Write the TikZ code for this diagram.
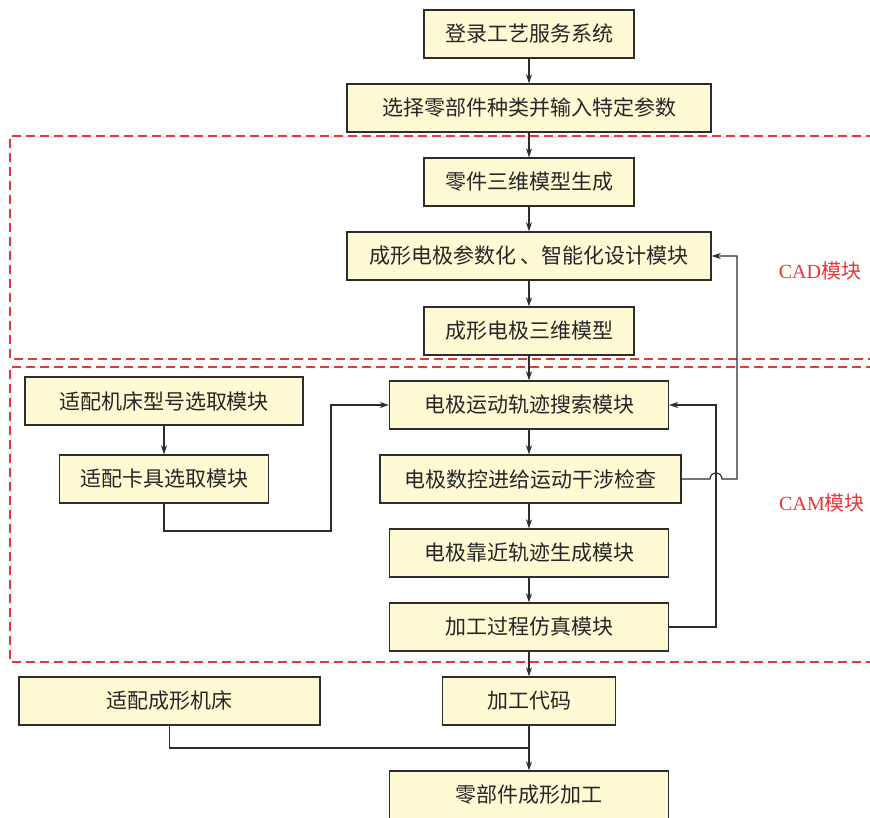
\documentclass[tikz,border=0pt]{standalone}
\usepackage{fontspec}
\setmainfont{Noto Sans CJK SC}
\newfontfamily\latinserif{Liberation Serif}
\usetikzlibrary{arrows.meta}
\definecolor{boxfill}{RGB}{255,249,212}
\definecolor{boxline}{RGB}{45,45,45}
\definecolor{dashred}{RGB}{232,55,55}
\begin{document}
\begin{tikzpicture}[x=1pt,y=-1pt,
 blk/.style={draw=boxline,fill=boxfill,line width=1.4pt,inner sep=0pt,minimum height=48pt,font=\fontsize{21}{21}\selectfont,text=black!85},
 arr/.style={draw=boxline,line width=1.2pt,-{Stealth[length=9pt,width=6pt]}},
 ln/.style={draw=boxline,line width=1.2pt},
 zone/.style={draw=dashred,line width=1.1pt,dash pattern=on 9pt off 5pt},
 lab/.style={text=dashred,font=\fontsize{20}{20}\selectfont,inner sep=0pt}]
\useasboundingbox (0,0) rectangle (870,818);
% dashed zones
\draw[zone] (875,136) -- (10,136) -- (10,359) -- (875,359);
\draw[zone] (875,367) -- (10,367) -- (10,662) -- (875,662);
% main column
\node[blk,minimum width=210pt] (n1) at (529,34) {登录工艺服务系统};
\node[blk,minimum width=364pt] (n2) at (529,108) {选择零部件种类并输入特定参数};
\node[blk,minimum width=210pt] (n3) at (529,182) {零件三维模型生成};
\node[blk,minimum width=364pt] (n4) at (529,256) {成形电极参数化 、智能化设计模块};
\node[blk,minimum width=210pt] (n5) at (529,331) {成形电极三维模型};
\node[blk,minimum width=279pt] (n6) at (529,405) {电极运动轨迹搜索模块};
\node[blk,minimum width=301pt] (n7) at (530.5,479) {电极数控进给运动干涉检查};
\node[blk,minimum width=279pt] (n8) at (529,553) {电极靠近轨迹生成模块};
\node[blk,minimum width=279pt] (n9) at (529,627) {加工过程仿真模块};
\node[blk,minimum width=173pt] (n10) at (529,701) {加工代码};
\node[blk,minimum width=279pt,minimum height=52pt] (n11) at (529,797) {};
\node[font=\fontsize{21}{21}\selectfont,text=black!85,inner sep=0pt] (n11t) at (529,795) {零部件成形加工};
% left column
\node[blk,minimum width=278pt] (m1) at (164,401) {适配机床型号选取模块};
\node[blk,minimum width=209pt] (m2) at (164,479) {适配卡具选取模块};
\node[blk,minimum width=301pt] (m3) at (169.5,701) {适配成形机床};
% labels
\node[lab] (lcad) at (820,271) {{\latinserif CAD}模块};
\node[lab] (lcam) at (822,503) {{\latinserif CAM}模块};
% junctions
\coordinate (j1) at (331,531);
\coordinate (j2) at (529,748);
\coordinate (h1) at (710,479);
\coordinate (h2) at (737,479);
\coordinate (v1) at (716,627);
% arrows
\draw[arr] (n1) -- (n2);
\draw[arr] (n2) -- (n3);
\draw[arr] (n3) -- (n4);
\draw[arr] (n4) -- (n5);
\draw[arr] (n5) -- (n6);
\draw[arr] (n6.south) -- (n6.south |- n7.north);
\draw[arr] (n7.south -| n8.north) -- (n8.north);
\draw[arr] (n8) -- (n9);
\draw[arr] (n9) -- (n10);
\draw[arr] (n10) -- (n11);
\draw[arr] (m1) -- (m2);
\draw[arr] (m2.south) |- (j1) |- (n6.west);
\draw[ln] (m3.south) |- (j2);
\draw[arr] (n9.east) -- (v1) |- (n6.east);
\draw[arr] (n7.east) -- (h1) arc[start angle=180,end angle=0,radius=6pt] -- (h2) |- (n4.east);
\end{tikzpicture}
\end{document}
